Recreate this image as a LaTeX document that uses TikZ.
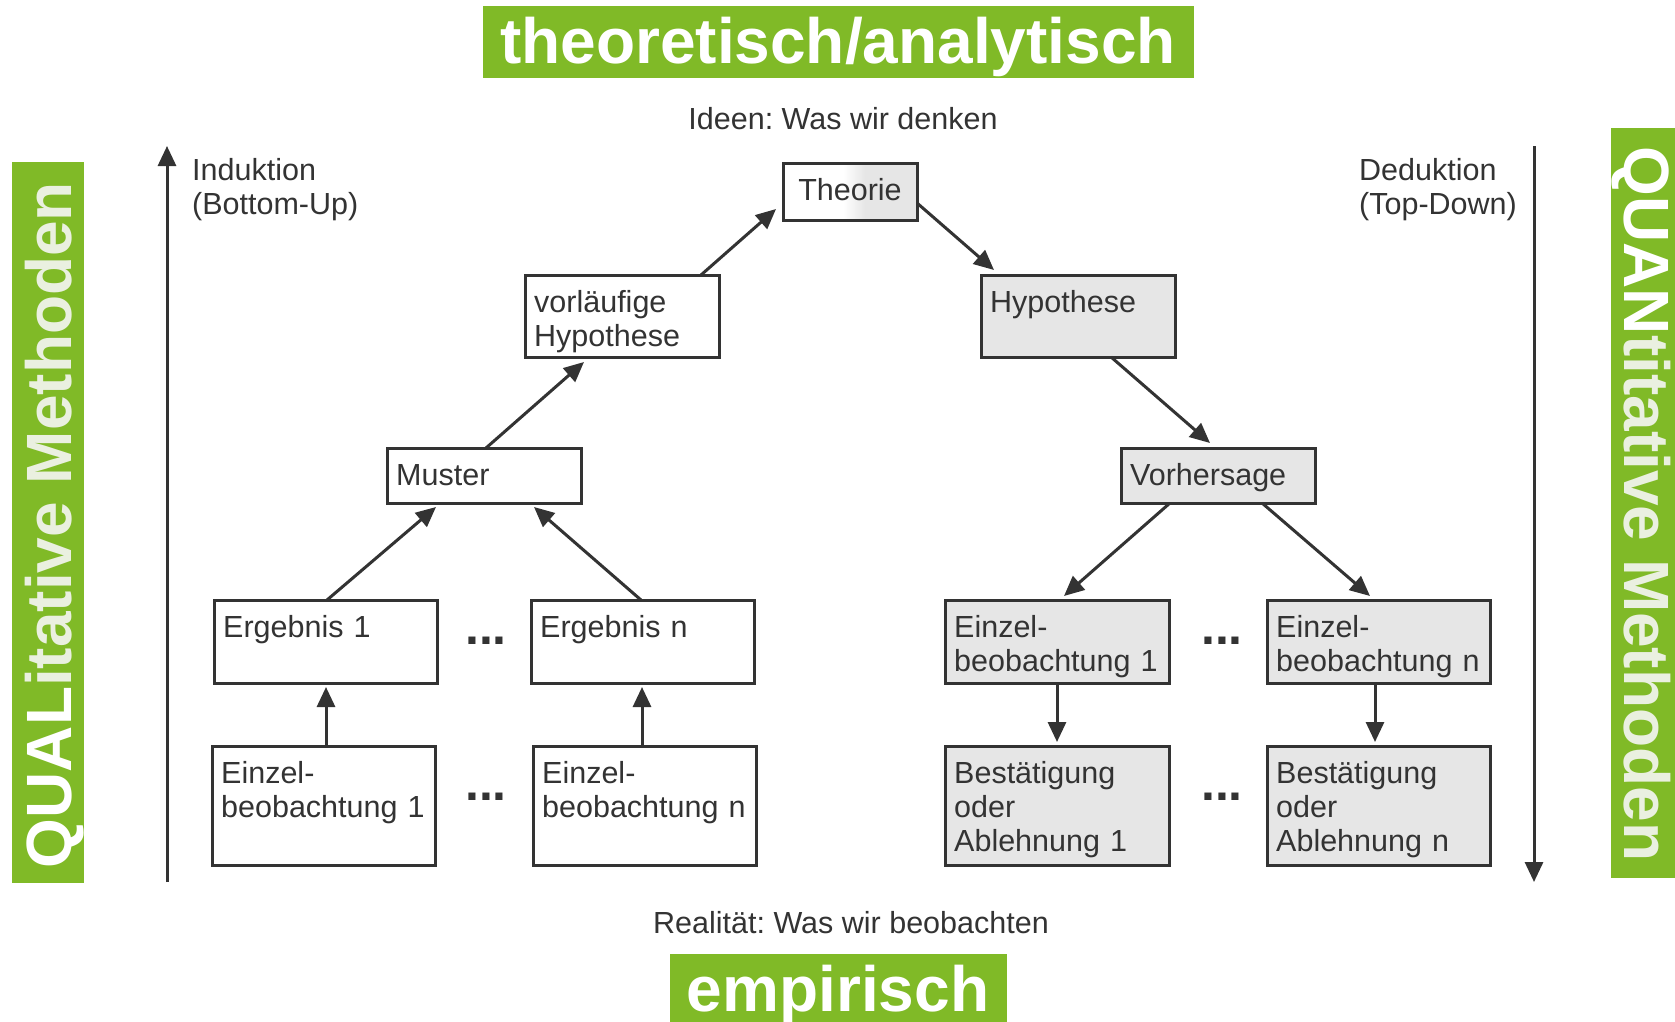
\documentclass[tikz,border=0pt]{standalone}
\usepackage{fontspec}
\setmainfont{Liberation Sans}
\usetikzlibrary{arrows.meta,calc}
\definecolor{grn}{RGB}{128,186,39}
\definecolor{ink}{RGB}{51,51,51}
\definecolor{boxgray}{RGB}{230,230,230}
\definecolor{tint}{RGB}{234,240,224}
\frenchspacing
\begin{document}
\begin{tikzpicture}[x=1pt,y=-1pt,
  box/.style={draw=ink, line width=3pt, fill=white, inner sep=0pt, outer sep=0pt, anchor=north west},
  gbox/.style={box, fill=boxgray},
  thbox/.style={box, path picture={
      \fill[boxgray] ([xshift=82pt]path picture bounding box.north west) rectangle (path picture bounding box.south east);
      \shade[left color=white, right color=boxgray] ([xshift=60pt]path picture bounding box.north west) rectangle ([xshift=82pt]path picture bounding box.south west);}},
  txt/.style={text=ink, font=\fontsize{30.5}{34}\selectfont, inner sep=0pt, align=left, anchor=base west, text width=215pt},
  lbl/.style={text=ink, font=\fontsize{30.5}{34}\selectfont, inner sep=0pt},
  arr/.style={draw=ink, line width=3pt, -{Triangle[length=20pt,width=18pt]}},
  gfill/.style={fill=grn, inner sep=0pt, outer sep=0pt, anchor=north west},
  big/.style={text=white, font=\fontsize{64}{70}\selectfont\bfseries, inner sep=0pt},
  dots/.style={text=ink, font=\fontsize{50}{50}\selectfont\bfseries, inner sep=0pt}
]
\useasboundingbox (0,0) rectangle (1675,1022);
\fill[white] (0,0) rectangle (1675,1022);

% green label panels
\node[gfill, minimum width=711pt, minimum height=72pt] (tpanel) at (483,6) {};
\node[big, anchor=base] (ttext) at (838,64) {theoretisch/analytisch};
\node[gfill, minimum width=337pt, minimum height=70pt] (bpanel) at (670,954) {};
\node[big, anchor=base] (btext) at (838,1011) {empirisch};
\node[gfill, minimum width=72pt, minimum height=721pt] (lpanel) at (12,162) {};
\node[big, rotate=90, anchor=base] (ltext) at (71,525) {QUAL{\color{tint}itative Methoden}};
\node[gfill, minimum width=64pt, minimum height=750pt] (rpanel) at (1611,128) {};
\node[big, rotate=-90, anchor=base] (rtext) at (1624,504) {QUAN{\color{tint}titative Methoden}};

% side labels
\node[lbl, anchor=base] (ideen) at (843,129) {Ideen: Was wir denken};
\node[lbl, anchor=base] (real) at (851,933) {Realität: Was wir beobachten};
\node[txt] (ind) at (192,180) {Induktion\\(Bottom-Up)};
\node[txt] (ded) at (1359,180) {Deduktion\\(Top-Down)};

\coordinate (ia) at (167,882);
\coordinate (ib) at (167,146);
\coordinate (da) at (1534,146);
\coordinate (db) at (1534,882);
\draw[arr] (ia) -- (ib);
\draw[arr] (da) -- (db);

% boxes
\node[thbox, minimum width=134pt, minimum height=57pt] (th) at (783,163) {};
\node[lbl, anchor=base] (tht) at ($(th.north)+(0,37)$) {Theorie};

\node[box, minimum width=194pt, minimum height=82pt] (vh) at (525,275) {};
\node[txt] at ($(vh.north west)+(9,37)$) {vorläufige\\Hypothese};
\node[gbox, minimum width=194pt, minimum height=82pt] (hyp) at (981,275) {};
\node[txt] at ($(hyp.north west)+(9,37)$) {Hypothese};

\node[box, minimum width=194pt, minimum height=55pt] (mu) at (387,448) {};
\node[txt] at ($(mu.north west)+(9,37)$) {Muster};
\node[gbox, minimum width=194pt, minimum height=55pt] (vorh) at (1121,448) {};
\node[txt] at ($(vorh.north west)+(9,37)$) {Vorhersage};

\node[box, minimum width=223pt, minimum height=83pt] (erg1) at (214,600) {};
\node[txt] at ($(erg1.north west)+(9,37)$) {Ergebnis 1};
\node[box, minimum width=223pt, minimum height=83pt] (ergn) at (531,600) {};
\node[txt] at ($(ergn.north west)+(9,37)$) {Ergebnis n};

\node[box, minimum width=223pt, minimum height=119pt] (e1l) at (212,746) {};
\node[txt] at ($(e1l.north west)+(9,37)$) {Einzel-\\beobachtung 1};
\node[box, minimum width=223pt, minimum height=119pt] (enl) at (533,746) {};
\node[txt] at ($(enl.north west)+(9,37)$) {Einzel-\\beobachtung n};

\node[gbox, minimum width=224pt, minimum height=83pt] (e1r) at (945,600) {};
\node[txt] at ($(e1r.north west)+(9,37)$) {Einzel-\\beobachtung 1};
\node[gbox, minimum width=223pt, minimum height=83pt] (enr) at (1267,600) {};
\node[txt] at ($(enr.north west)+(9,37)$) {Einzel-\\beobachtung n};

\node[gbox, minimum width=224pt, minimum height=119pt] (b1) at (945,746) {};
\node[txt] at ($(b1.north west)+(9,37)$) {Bestätigung\\oder\\Ablehnung 1};
\node[gbox, minimum width=223pt, minimum height=119pt] (bn) at (1267,746) {};
\node[txt] at ($(bn.north west)+(9,37)$) {Bestätigung\\oder\\Ablehnung n};

% dots
\node[dots] (d1) at (486,641) {...};
\node[dots] (d2) at (486,797) {...};
\node[dots] (d3) at (1222,641) {...};
\node[dots] (d4) at (1222,797) {...};

% connectors
\draw[arr] ($(mu.north west)+(99,0)$) -- ($(vh.south west)+(59,5)$);
\draw[arr] ($(vh.north west)+(176,0)$) -- ($(th.north west)+(-7,46)$);
\draw[arr] ($(th.north east)+(0,40)$) -- ($(hyp.north west)+(13,-5)$);
\draw[arr] ($(hyp.south west)+(130,0)$) -- ($(vorh.north west)+(89,-5)$);
\draw[arr] ($(vorh.south west)+(49,0)$) -- ($(e1r.north west)+(119,-4)$);
\draw[arr] ($(vorh.south west)+(141,0)$) -- ($(enr.north west)+(103,-4)$);
\draw[arr] ($(erg1.north west)+(113,0)$) -- ($(mu.south west)+(49,4)$);
\draw[arr] ($(ergn.north west)+(110,0)$) -- ($(mu.south west)+(147,4)$);
\draw[arr] ($(e1l.north west)+(114,0)$) -- ($(erg1.south west)+(112,4)$);
\draw[arr] ($(enl.north west)+(109,0)$) -- ($(ergn.south west)+(111,4)$);
\draw[arr] ($(e1r.south west)+(112,0)$) -- ($(b1.north west)+(112,-4)$);
\draw[arr] ($(enr.south west)+(108,0)$) -- ($(bn.north west)+(108,-4)$);
\end{tikzpicture}
\end{document}
